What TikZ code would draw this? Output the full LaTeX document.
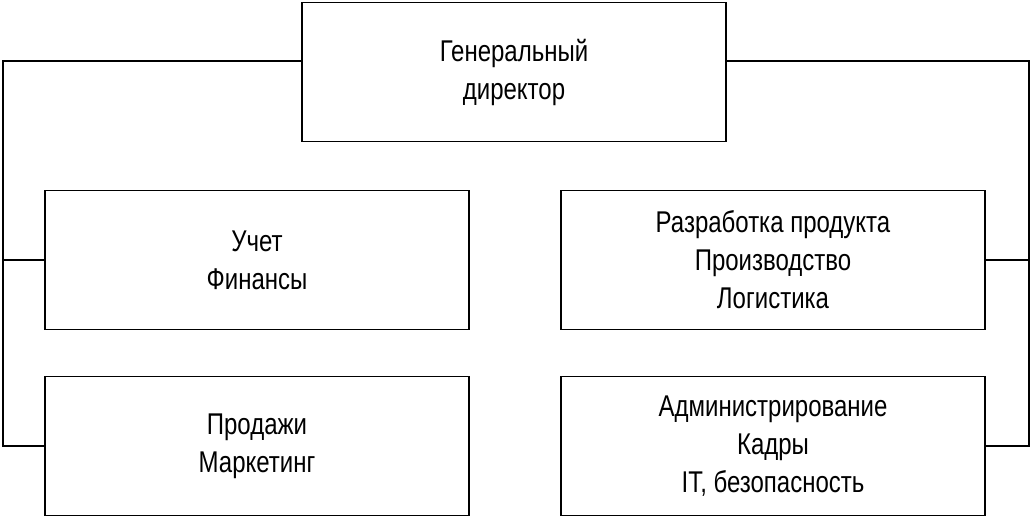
\documentclass[tikz,border=0pt]{standalone}
\usepackage{fontspec}
\setmainfont{Liberation Sans}[FakeStretch=0.8]
\begin{document}
\begin{tikzpicture}[x=1pt,y=1pt,
  box/.style={draw,line width=1.6pt,minimum width=424pt,minimum height=139pt,align=center,font=\fontsize{30}{38}\selectfont,inner sep=0pt},
  ln/.style={line width=1.6pt}]
\useasboundingbox (0,0) rectangle (1032,520);
\node[box] (g) at (514,448) {Генеральный\\директор};
\node[box] (a) at (257,260) {Учет\\Финансы};
\node[box] (b) at (257,74) {Продажи\\Маркетинг};
\node[box] (c) at (773,260) {Разработка продукта\\Производство\\Логистика};
\node[box] (d) at (773,74) {Администрирование\\Кадры\\IT, безопасность};
\coordinate (l1) at (3,459);
\coordinate (l2) at (3,74);
\coordinate (r1) at (1029,459);
\coordinate (r2) at (1029,74);
\draw[ln] (g.west |- l1) -- (l1) -- (l2) -- (b.west);
\draw[ln] (a.west) -- (a.west -| l1);
\draw[ln] (g.east |- r1) -- (r1) -- (r2) -- (d.east);
\draw[ln] (c.east) -- (c.east -| r1);
\end{tikzpicture}
\end{document}
